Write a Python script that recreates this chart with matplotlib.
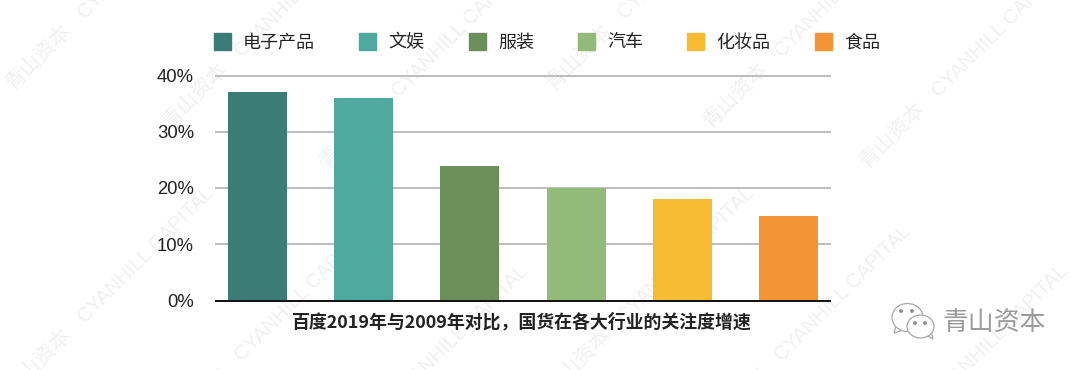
import matplotlib
matplotlib.use("Agg")
import matplotlib.pyplot as plt
import matplotlib.patches as patches

plt.rcParams['font.family'] = ['Noto Sans CJK SC', 'DejaVu Sans']

categories = ["电子产品", "文娱", "服装", "汽车", "化妆品", "食品"]
growth = [37, 36, 24, 20, 18, 15]
bar_colors = ["#397D76", "#50A99F", "#6B8F58", "#92BA78", "#F6BB33", "#F29433"]
y_ticks = [0, 10, 20, 30, 40]
y_tick_labels = ["0%", "10%", "20%", "30%", "40%"]
caption = "百度2019年与2009年对比，国货在各大行业的关注度增速"
legend_x = [214, 359, 469, 578, 687, 815]

W, H = 1080, 370
fig = plt.figure(figsize=(W / 100, H / 100), dpi=100)
ax = fig.add_axes([216 / W, 1 - 300.5 / H, (830 - 216) / W, 225 / H])
ax.set_zorder(5)


def px(x, y):
    return x / W, 1 - y / H


# watermark tile: three stripes repeated every 540 px across and 304 px down
for i in range(2):
    for j in range(2):
        for sx, sy in [(9, 86), (166, 124), (323, 164)]:
            x, y = sx + 540 * i, sy + 304 * j
            fig.text(*px(x, y), "青山资本", rotation=45, rotation_mode='anchor', fontsize=15,
                     color="#F1F1F1", ha='left', va='center', zorder=0)
            fig.text(*px(x + 72, y - 70), "CYANHILL CAPITAL", rotation=45, rotation_mode='anchor',
                     fontsize=14.5, family='Liberation Sans', color="#F1F1F1", ha='left', va='center', zorder=0)

ax.patch.set_alpha(0)
ax.bar(range(len(categories)), growth, width=0.556, color=bar_colors, zorder=3)
ax.set_xlim(-0.39, 5.39)
ax.set_ylim(0, 40)
ax.set_yticks(y_ticks, y_tick_labels, fontsize=13.3, color="#222222", family='Liberation Sans')
ax.set_xticks([])
ax.tick_params(axis='y', length=0, pad=15.8)
ax.grid(axis='y', color="#BDBDBD", linewidth=1.4, zorder=1)
for line in ax.get_ygridlines():
    line.set_clip_on(False)
for s in ['top', 'right', 'left']:
    ax.spines[s].set_visible(False)
ax.spines['bottom'].set_color("#111111")
ax.spines['bottom'].set_linewidth(1.4)
ax.spines['bottom'].set_zorder(4)

# legend placed by hand so the gaps follow the reference
for name, color, x in zip(categories, bar_colors, legend_x):
    fig.add_artist(patches.Rectangle(px(x, 50), 17 / W, 17 / H, color=color, transform=fig.transFigure))
    fig.text(*px(x + 29, 42.5), name, fontsize=13, color="#222222", ha='left', va='center')

fig.text(*px(522, 322), caption, fontsize=12.9, fontweight='bold', color="#222222", ha='center', va='center')

# wechat badge
badge = "#A8A8A8"
for cx, cy, rx, ry, tail in [(907.5, 317.5, 15.5, 14, [(896, 326), (894, 333), (903, 330)]),
                             (920.5, 326.5, 13.5, 11.5, [(926, 335), (933, 339), (931, 331)])]:
    fig.add_artist(patches.Polygon([px(*p) for p in tail], closed=True, facecolor='white', edgecolor=badge,
                                   linewidth=0.9, transform=fig.transFigure))
    fig.add_artist(patches.Ellipse(px(cx, cy), 2 * rx / W, 2 * ry / H, facecolor='white', edgecolor=badge,
                                   linewidth=0.9, transform=fig.transFigure))
for ex, ey in [(901, 311), (912, 311), (915, 323), (925, 323)]:
    fig.add_artist(patches.Ellipse(px(ex, ey), 2.4 / W, 2.4 / H, color="#8A8A8A", transform=fig.transFigure))
fig.text(*px(942, 322), "青山资本", fontsize=18.6, color="#9A9A9A", ha='left', va='center')

fig.savefig("out.png", dpi=100)
